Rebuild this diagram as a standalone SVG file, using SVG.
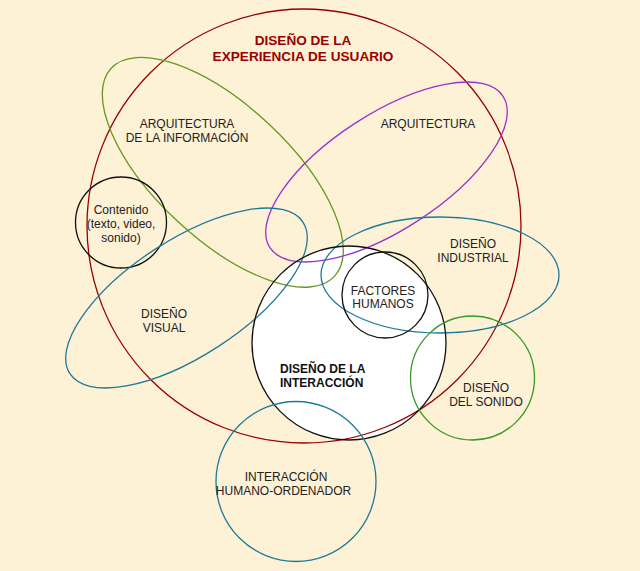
<svg xmlns="http://www.w3.org/2000/svg" width="640" height="571" viewBox="0 0 640 571">
<style>
.s{fill:none;stroke-width:1.3}
.lbl{font-family:"Liberation Sans",Arial,sans-serif;font-size:12px;fill:#222;text-anchor:middle}
.ttl{font-family:"Liberation Sans",Arial,sans-serif;font-size:13.6px;font-weight:bold;fill:#990000;text-anchor:middle}
.bold{font-family:"Liberation Sans",Arial,sans-serif;font-size:12px;font-weight:bold;fill:#111}
.red{stroke:#990000}
.blue{stroke:#1f7a99}
.olive{stroke:#669922}
.purple{stroke:#9933cc}
.green{stroke:#339922}
.blk{stroke:#111}
</style>
<rect width="640" height="571" fill="#fdf1d6"/>
<g id="interaccion-fill">
<circle cx="349" cy="343" r="97" fill="#ffffff"/>
</g>
<g id="ux">
<circle class="s red" cx="304" cy="226" r="217"/>
<text class="ttl" x="303" y="45">DISEÑO DE LA</text>
<text class="ttl" x="303" y="61">EXPERIENCIA DE USUARIO</text>
</g>
<g id="arq-info">
<ellipse class="s olive" cx="222.8" cy="172.3" rx="152.6" ry="66.7" transform="rotate(43 222.8 172.3)"/>
<text class="lbl" x="187" y="128">ARQUITECTURA</text>
<text class="lbl" x="187" y="142">DE LA INFORMACIÓN</text>
</g>
<g id="arquitectura">
<ellipse class="s purple" cx="386.5" cy="172" rx="139" ry="58" transform="rotate(-33 386.5 172)"/>
<text class="lbl" x="428" y="128">ARQUITECTURA</text>
</g>
<g id="contenido">
<circle class="s blk" cx="121" cy="222.5" r="45.5"/>
<text class="lbl" x="121" y="214">Contenido</text>
<text class="lbl" x="121" y="228">(texto, video,</text>
<text class="lbl" x="121" y="242">sonido)</text>
</g>
<g id="visual">
<ellipse class="s blue" cx="186.5" cy="298" rx="139" ry="58" transform="rotate(-33 186.5 298)"/>
<text class="lbl" x="164" y="318">DISEÑO</text>
<text class="lbl" x="164" y="332">VISUAL</text>
</g>
<g id="industrial">
<ellipse class="s blue" cx="440" cy="275" rx="119" ry="58"/>
<text class="lbl" x="473" y="248">DISEÑO</text>
<text class="lbl" x="473" y="262">INDUSTRIAL</text>
</g>
<g id="interaccion">
<circle class="s blk" cx="349" cy="343" r="97"/>
<text class="bold" x="280" y="373">DISEÑO DE LA</text>
<text class="bold" x="280" y="387">INTERACCIÓN</text>
</g>
<g id="factores">
<circle class="s blk" cx="385" cy="295" r="43"/>
<text class="lbl" x="383" y="294.5">FACTORES</text>
<text class="lbl" x="383" y="307.5">HUMANOS</text>
</g>
<g id="sonido">
<circle class="s green" cx="472.5" cy="378" r="62"/>
<text class="lbl" x="486" y="392">DISEÑO</text>
<text class="lbl" x="486" y="406">DEL SONIDO</text>
</g>
<g id="hci">
<circle class="s blue" cx="296" cy="481.5" r="80"/>
<text class="lbl" x="286" y="481">INTERACCIÓN</text>
<text class="lbl" x="283.5" y="495">HUMANO-ORDENADOR</text>
</g>
<g id="connectors"/>
</svg>
